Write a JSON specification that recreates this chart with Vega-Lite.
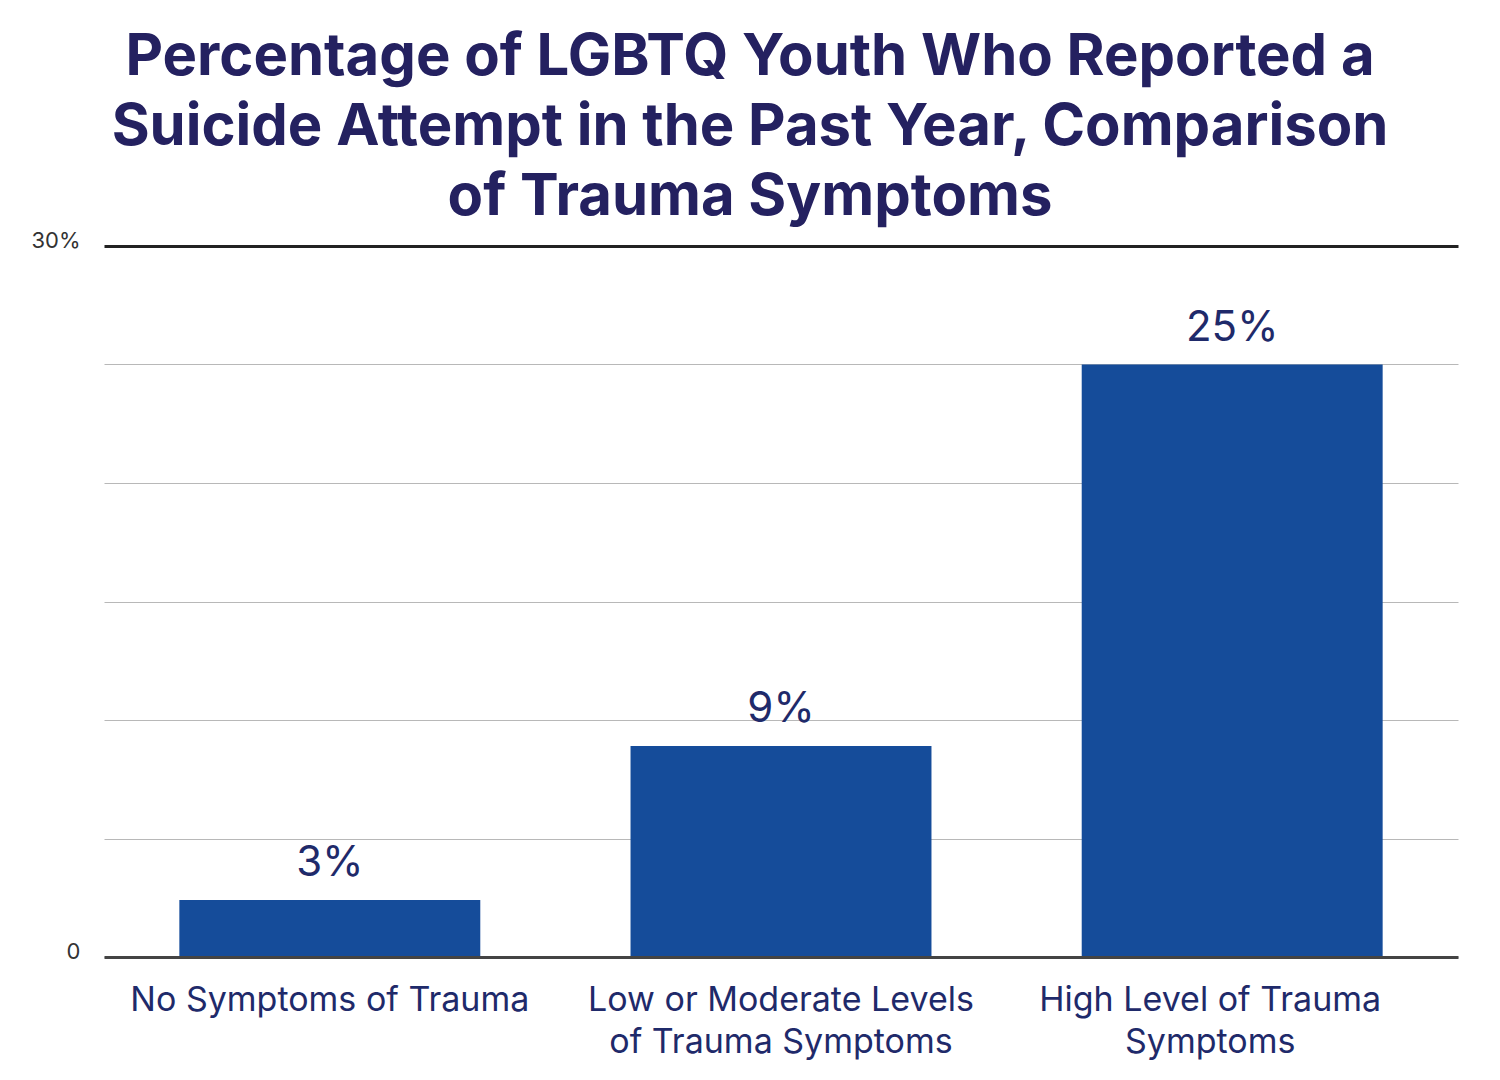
{
  "$schema": "https://vega.github.io/schema/vega-lite/v6.json",
  "width": 1354,
  "height": 711,
  "autosize": {"type": "none"},
  "padding": {"left": 104, "top": 246, "right": 42, "bottom": 123},
  "background": "white",
  "title": {
    "text": ["Percentage of LGBTQ Youth Who Reported a", "Suicide Attempt in the Past Year, Comparison", "of Trauma Symptoms"],
    "font": "Inter",
    "fontSize": 58,
    "fontWeight": 700,
    "color": "#242160",
    "lineHeight": 70,
    "anchor": "middle",
    "dx": -31,
    "offset": 2
  },
  "data": {
    "values": [
      {"group": "No Symptoms of Trauma", "value": 2.4, "label": "3%"},
      {"group": "Low or Moderate Levels|of Trauma Symptoms", "value": 8.9, "label": "9%"},
      {"group": "High Level of Trauma|Symptoms", "value": 25, "label": "25%"}
    ]
  },
  "encoding": {
    "x": {
      "field": "group",
      "type": "nominal",
      "sort": null,
      "scale": {"paddingInner": 0.333, "paddingOuter": 0.167},
      "axis": {
        "title": null,
        "labelAngle": 0,
        "labelExpr": "split(datum.value, '|')",
        "labelFont": "Inter",
        "labelFontSize": 34,
        "labelColor": "#1f2a6a",
        "labelLineHeight": 42,
        "labelPadding": 26,
        "labelLimit": 0,
        "labelOffset": {"condition": {"test": "datum.value === 'High Level of Trauma|Symptoms'", "value": -22}, "value": 0},
        "ticks": false,
        "domainColor": "#444444",
        "domainWidth": 3,
        "zindex": 1
      }
    },
    "y": {
      "field": "value",
      "type": "quantitative",
      "scale": {"domain": [0, 30], "nice": false},
      "axis": {
        "title": null,
        "values": [0, 5, 10, 15, 20, 25, 30],
        "labelExpr": "datum.value == 30 ? '30%' : datum.value == 0 ? '0' : ''",
        "labelFont": "Inter",
        "labelFontSize": 22,
        "labelColor": "#333333",
        "labelPadding": 24,
        "labelOffset": -6,
        "ticks": false,
        "domain": false,
        "gridColor": {"condition": {"test": "datum.value === 30", "value": "#222222"}, "value": "#b8b8b8"},
        "gridWidth": {"condition": {"test": "datum.value === 30", "value": 3}, "value": 1}
      }
    }
  },
  "layer": [
    {"mark": {"type": "bar", "color": "#154c9a"}},
    {
      "mark": {"type": "text", "font": "Inter", "fontSize": 42, "color": "#1f2a6a", "baseline": "alphabetic", "dy": -24},
      "encoding": {"text": {"field": "label"}}
    }
  ],
  "config": {"view": {"stroke": null}}
}
